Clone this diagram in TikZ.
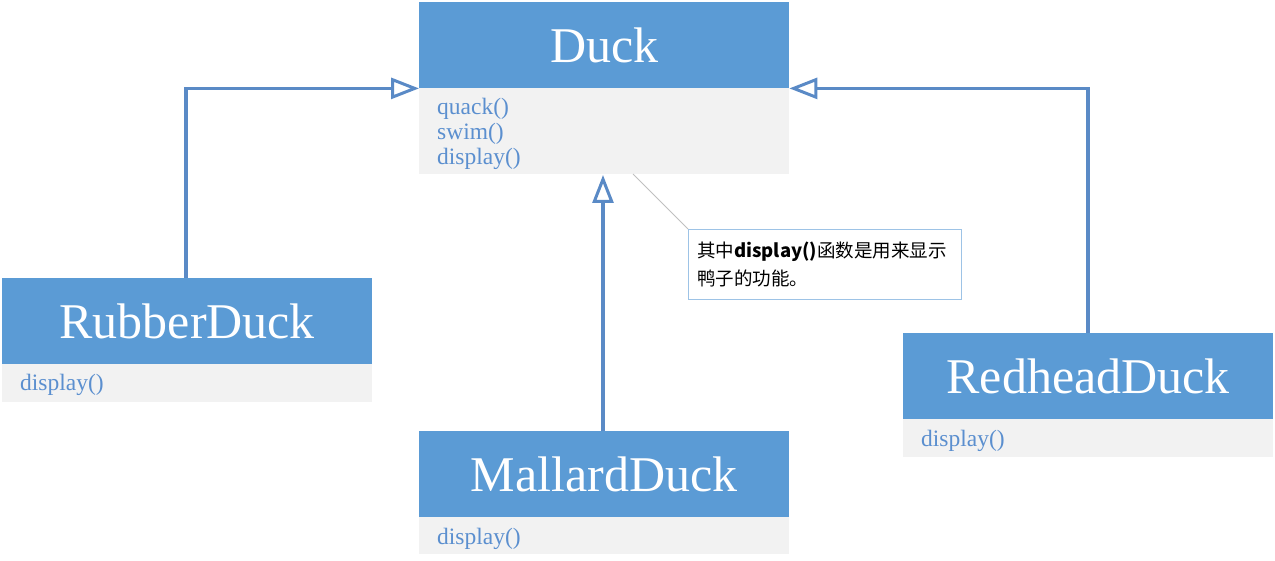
\documentclass[tikz,border=0pt]{standalone}
\usepackage{fontspec}
\setmainfont{Liberation Serif}
\newfontfamily\cjk{Noto Sans CJK SC}
\usetikzlibrary{arrows.meta}
\definecolor{hdr}{HTML}{5B9BD5}
\definecolor{bodyc}{HTML}{F2F2F2}
\definecolor{meth}{HTML}{5B8FCF}
\definecolor{edge}{HTML}{5A8AC6}
\definecolor{notec}{HTML}{9DC3E6}
\definecolor{leader}{HTML}{C0C0C0}
\tikzset{
  hdrbox/.style={rectangle, fill=hdr, draw=none, minimum width=370pt, minimum height=86pt, inner sep=0pt, anchor=north west, text=white, font=\fontsize{50}{50}\selectfont},
  bodybox/.style={rectangle, fill=bodyc, draw=none, minimum width=370pt, inner sep=0pt, anchor=north west},
  methtxt/.style={anchor=base west, inner sep=0pt, text=meth, font=\fontsize{23.5}{23.5}\selectfont},
  notetxt/.style={anchor=base west, inner sep=0pt, font=\fontsize{18.5}{18.5}\selectfont},
  inherit/.style={draw=edge, line width=3.2pt, -{Triangle[open, length=28pt, width=21pt, line width=3pt]}},
}
\begin{document}
\begin{tikzpicture}[x=1pt, y=-1pt]
\useasboundingbox (0,0) rectangle (1275,561);
% Duck
\node[hdrbox] (duckh) at (419,2) {Duck};
\node[bodybox, minimum height=86pt] (duckb) at (419,88) {};
\node[methtxt] (m1) at (437,115) {quack()};
\node[methtxt] (m2) at (437,140) {swim()};
\node[methtxt] (m3) at (437,165) {display()};
% RubberDuck
\node[hdrbox] (rubh) at (2,278) {RubberDuck};
\node[bodybox, minimum height=38pt] (rubb) at (2,364) {};
\node[methtxt] (rm) at (20,391) {display()};
% MallardDuck
\node[hdrbox] (malh) at (419,431) {MallardDuck};
\node[bodybox, minimum height=37pt] (malb) at (419,517) {};
\node[methtxt] (mm) at (437,544) {display()};
% RedheadDuck
\node[hdrbox] (redh) at (903,333) {RedheadDuck};
\node[bodybox, minimum height=38pt] (redb) at (903,419) {};
\node[methtxt] (redm) at (921,446) {display()};
% note
\node[draw=notec, line width=0.8pt, anchor=north west, minimum width=273pt, minimum height=70pt, inner sep=0pt] (note) at (688,229) {};
\node[notetxt] (nt1) at (697,258) {\cjk 其中\textbf{display()}函数是用来显示};
\node[notetxt] (nt2) at (697,286) {\cjk 鸭子的功能。};
\coordinate (lead) at (633,174);
\draw[leader, line width=0.8pt] (lead) -- (note.north west);
% inheritance
\draw[inherit] (rubh.north -| 186,0) |- (duckh.south west);
\draw[inherit] (redh.north -| 1088,0) |- (duckh.south east);
\draw[inherit] (malh.north -| 603,0) -- (603,175);
\end{tikzpicture}
\end{document}
